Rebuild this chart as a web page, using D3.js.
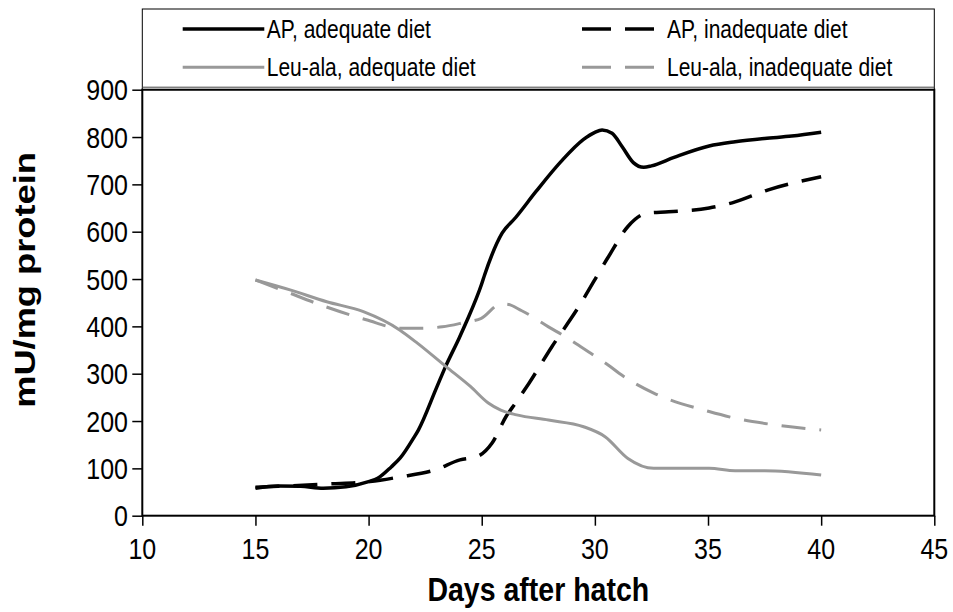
<!DOCTYPE html>
<html><head><meta charset="utf-8">
<script src="https://cdn.jsdelivr.net/npm/d3@7"></script>
<style>
html,body{margin:0;padding:0;background:#fff;}
svg{display:block;font-family:"Liberation Sans",Arial,sans-serif;}
</style></head>
<body><svg id="c" width="953" height="612"></svg>
<script>
const xTicks = [10,15,20,25,30,35,40,45];
const yTicks = [0,100,200,300,400,500,600,700,800,900];
const seriesNames = ["AP, adequate diet","AP, inadequate diet","Leu-ala, adequate diet","Leu-ala, inadequate diet"];

const apAdeqDays = [15,16,17,18,19,20,20.4,21,21.4,22,22.2,23,23.4,24,24.3,25,25.13,25.9,26.5,27.4,28.5,29.5,30,30.32,30.76,31.2,31.7,32.16,32.5,33.5,35.05,36.2,37.5,38.7,40];
const apAdeqVals = [58,63,62,58,61,72,79,103,122,165,181,270,315,375,407,490,509,597,630,685,748,795,810,815,808,780,746,736,739,757,781,790,797,802,810];

const apInadDays = [15,16,18.2,20.06,21.39,22.95,24.04,24.8,25.45,26.07,26.54,27.09,28.1,29.2,30.6,31.46,32.3,33.26,35.05,36.07,37.63,40];
const apInadVals = [60,62,67,72,82,97,118,125,153,209,241,280,357,435,547,611,639,642,650,661,688,716];

const leuAdeqDays = [15,16.53,18.15,19.77,21.39,22.17,23.42,24.5,25.29,25.84,26.54,27.95,29.5,30.45,31.46,32.6,35.05,36.2,37.5,40];
const leuAdeqVals = [498,477,452,431,392,364,315,273,238,223,213,202,188,167,121,100,100,95,95,86];

const leuInadDays = [15,16.16,18.07,19.9,21.39,22.2,23.26,24.2,24.98,25.84,26.07,26.77,27.95,28.8,29.82,30.6,31.07,32.6,35.05,36.2,37.5,40];
const leuInadVals = [498,477,442,414,396,396,399,408,417,447,447,433,399,375,343,318,301,259,220,206,195,181];

const grey = "#999999";
const series = [
  {name: seriesNames[0], days: apAdeqDays, vals: apAdeqVals, color:"#000", w:3.5, dash:null},
  {name: seriesNames[1], days: apInadDays, vals: apInadVals, color:"#000", w:3.5, dash:"24,14"},
  {name: seriesNames[2], days: leuAdeqDays, vals: leuAdeqVals, color:grey, w:3, dash:null},
  {name: seriesNames[3], days: leuInadDays, vals: leuInadVals, color:grey, w:3, dash:"24,14"}
];

const svg = d3.select("#c");
const L = 142.3, R = 934.3, T = 89.7, B = 515.7;
const x = d3.scaleLinear().domain([10,45]).range([L,R]);
const y = d3.scaleLinear().domain([0,900]).range([B,T]);

function stretchedText(px, py, str, size, anchor, weight, sy){
  return svg.append("text")
    .attr("transform",`translate(${px},${py}) scale(1,${sy||1.2})`)
    .attr("text-anchor",anchor).attr("font-size",size)
    .attr("font-weight",weight||"normal").attr("fill","#000").text(str);
}

// legend box
svg.append("rect").attr("x",L).attr("y",9).attr("width",R-L).attr("height",T-9)
  .attr("fill","#fff").attr("stroke","#000").attr("stroke-width",1);

// plot frame
svg.append("rect").attr("x",L).attr("y",T).attr("width",R-L).attr("height",B-T)
  .attr("fill","none").attr("stroke","#000").attr("stroke-width",2);
svg.append("line").attr("x1",L).attr("x2",R).attr("y1",T-2.5).attr("y2",T-2.5).attr("stroke","#444").attr("stroke-width",1);

// axes (tick marks from d3 axes, labels stretched)
const gx = svg.append("g").attr("transform",`translate(0,${B})`)
  .call(d3.axisBottom(x).tickValues(xTicks).tickSize(10).tickFormat(""));
gx.select(".domain").remove();
gx.selectAll("line").attr("stroke","#000").attr("stroke-width",1.5);
xTicks.forEach(t=> stretchedText(x(t), 559, d3.format("d")(t), 25, "middle"));

const gy = svg.append("g").attr("transform",`translate(${L},0)`)
  .call(d3.axisLeft(y).tickValues(yTicks).tickSize(10).tickFormat(""));
gy.select(".domain").remove();
gy.selectAll("line").attr("stroke","#000").attr("stroke-width",1.5);
yTicks.forEach(t=> stretchedText(128, y(t)+10.5, d3.format("d")(t), 25, "end"));

// lines
const line = d3.line().x(d=>x(d[0])).y(d=>y(d[1])).curve(d3.curveMonotoneX);
series.forEach(s=>{
  const pts = s.days.map((d,i)=>[d,s.vals[i]]);
  svg.append("path").datum(pts).attr("d",line).attr("fill","none")
    .attr("stroke",s.color).attr("stroke-width",s.w)
    .attr("stroke-dasharray",s.dash).attr("stroke-linejoin","round");
});

// legend
const legPos = [[182.7,29],[582,29],[182.7,67.3],[582,67.3]];
series.forEach((s,i)=>{
  const [lx,ly] = legPos[i];
  const len = i%2===0 ? 81.6 : 72;
  svg.append("line").attr("x1",lx).attr("x2",lx+len).attr("y1",ly).attr("y2",ly)
    .attr("stroke",s.color).attr("stroke-width",s.w)
    .attr("stroke-dasharray", s.dash ? "29,14" : null);
  stretchedText(i%2===0 ? 266.7 : 667, ly+9, s.name, 21, "start");
});

// axis titles
stretchedText((L+R)/2, 601, "Days after hatch", 28.5, "middle", "bold", 1.15);
svg.append("text").attr("transform",`translate(35,280) rotate(-90) scale(1.25,1)`).attr("text-anchor","middle")
  .attr("font-size",29).attr("font-weight","bold").attr("fill","#000").text("mU/mg protein");
</script></body></html>
